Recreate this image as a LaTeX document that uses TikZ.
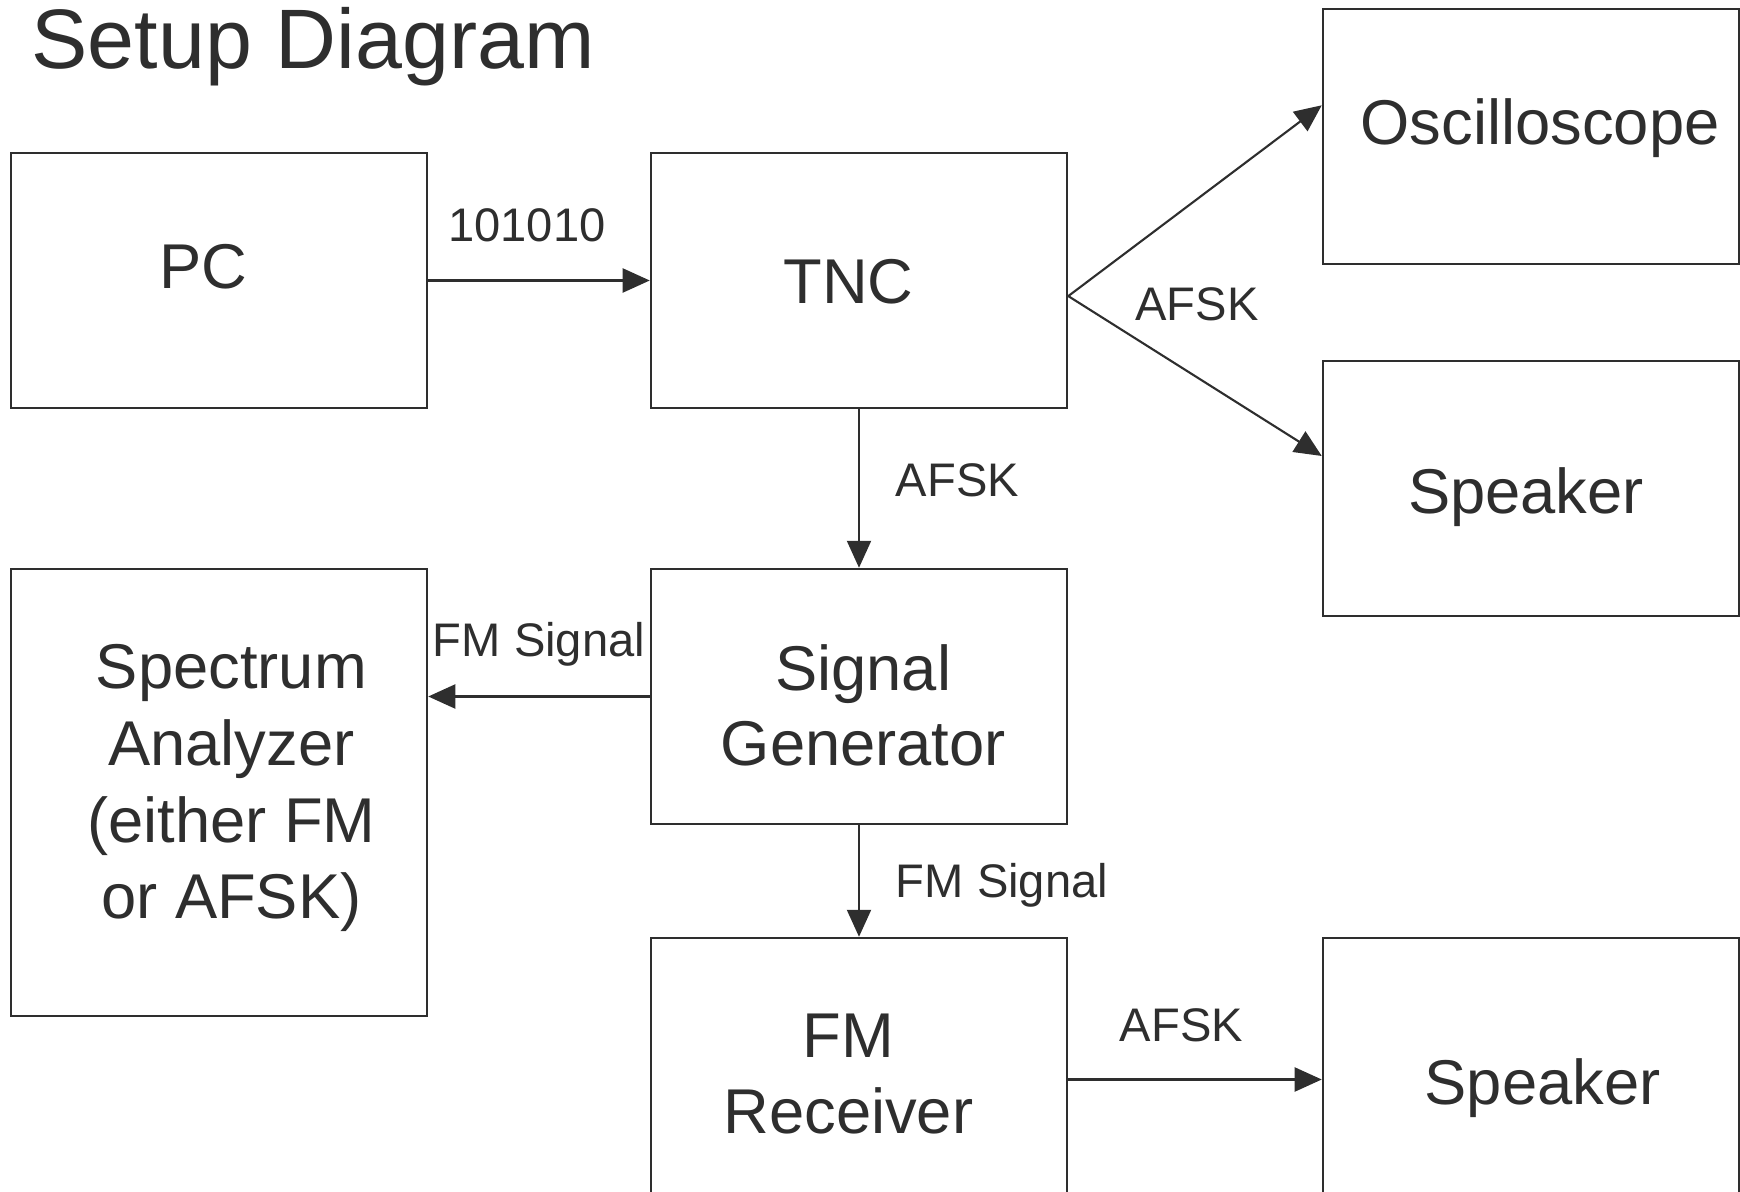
\documentclass[tikz,border=0pt]{standalone}
\usepackage{fontspec}
\setmainfont{Liberation Sans}
\usetikzlibrary{arrows.meta,calc}
\definecolor{ink}{HTML}{2E2E2E}
\begin{document}
\begin{tikzpicture}[x=0.01cm, y=-0.01cm,
  box/.style={draw=ink, line width=0.65pt, rectangle, inner sep=0pt, minimum width=4.16cm, minimum height=2.55cm},
  boxtext/.style={text=ink, font=\fontsize{18}{21.6}\selectfont, anchor=base, inner sep=0pt},
  lbl/.style={text=ink, font=\fontsize{13.4}{16}\selectfont, anchor=base, inner sep=0pt},
  conn/.style={draw=ink, line width=0.6pt, -{Triangle[length=0.27cm,width=0.24cm]}},
]
\useasboundingbox (0,0) rectangle (1740,1192);
\clip (0,0) rectangle (1740,1192);

% title
\node[text=ink, font=\fontsize{24}{28}\selectfont, anchor=base west, inner sep=0pt] (title) at (31,69) {Setup Diagram};

% boxes
\node[box] (pc)   at (219,280.5) {};
\node[box] (tnc)  at (859,280.5) {};
\node[box] (osc)  at (1531,136.5) {};
\node[box] (spk1) at (1531,488.5) {};
\node[box, minimum height=4.47cm] (spec) at (219,792.5) {};
\node[box] (sg)   at (859,696.5) {};
\node[box] (fmrx) at (859,1065.5) {};
\node[box] (spk2) at (1531,1065.5) {};

% box texts
\node[boxtext] (pct)   at (203.6,288.2) {PC};
\node[boxtext] (tnct)  at (848.5,303.8) {TNC};
\node[boxtext] (osct)  at (1540,144.5) {Oscilloscope};
\node[boxtext] (spk1t) at (1526,513.5) {Speaker};
\node[boxtext, font=\fontsize{18}{21.8}\selectfont] (spect) at (231.4,689)
  {\begin{tabular}[t]{@{}c@{}}Spectrum\\Analyzer\\(either FM\\or AFSK)\end{tabular}};
\node[boxtext, font=\fontsize{18}{21.1}\selectfont] (sgt) at (863.3,691)
  {\begin{tabular}[t]{@{}c@{}}Signal\\Generator\end{tabular}};
\node[boxtext, font=\fontsize{18}{21.5}\selectfont] (fmrxt) at (848.4,1057.5)
  {\begin{tabular}[t]{@{}c@{}}FM\\Receiver\end{tabular}};
\node[boxtext] (spk2t) at (1542.5,1104) {Speaker};

% connector labels
\node[lbl] (l1) at (527,241.5) {101010};
\node[lbl] (l2) at (1197,320.5) {AFSK};
\node[lbl] (l3) at (957.5,496.5) {AFSK};
\node[lbl] (l4) at (539,656.5) {FM Signal};
\node[lbl] (l5) at (1002,897.5) {FM Signal};
\node[lbl] (l6) at (1181.5,1041.5) {AFSK};

% connectors
\draw[conn] (pc.east) -- (tnc.west);
\coordinate (fan) at ($(tnc.east)+(0,15.6)$);
\draw[conn] (fan) -- ($(osc.west)+(0,-31.2)$);
\draw[conn] (fan) -- ($(spk1.west)+(0,-32.5)$);
\draw[conn] (tnc.south) -- (sg.north);
\draw[conn] (sg.west) -- (sg.west -| spec.east);
\draw[conn] (sg.south) -- (fmrx.north);
\coordinate (rx) at ($(fmrx.east)+(0,14)$);
\draw[conn] (rx) -- (rx -| spk2.west);
\end{tikzpicture}
\end{document}
